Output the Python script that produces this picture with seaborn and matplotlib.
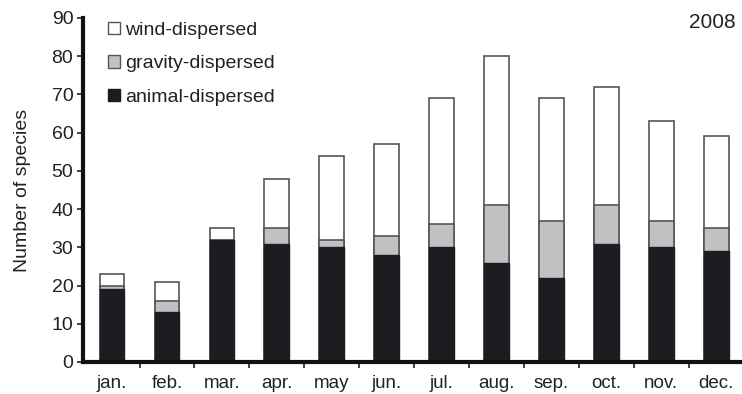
import matplotlib.pyplot as plt
import pandas as pd
import seaborn as sns
from matplotlib.patches import Patch
from matplotlib.ticker import FixedLocator

# Data (2008)
months = ["jan.", "feb.", "mar.", "apr.", "may", "jun.",
          "jul.", "aug.", "sep.", "oct.", "nov.", "dec."]
animal = [19, 13, 32, 31, 30, 28, 30, 26, 22, 31, 30, 29]
gravity = [1, 3, 0, 4, 2, 5, 6, 15, 15, 10, 7, 6]
wind = [3, 5, 3, 13, 22, 24, 33, 39, 32, 31, 26, 24]

df = pd.DataFrame({"month": months, "animal": animal,
                   "gravity": gravity, "wind": wind})
df["animal_gravity"] = df["animal"] + df["gravity"]
df["total"] = df["animal_gravity"] + df["wind"]

sns.set_style("white")
plt.rcParams["font.family"] = ["Liberation Sans", "DejaVu Sans"]

fig = plt.figure(figsize=(7.42, 3.94), dpi=100)
ax = fig.add_axes([83 / 742, 1 - 362 / 394, 1 - 83 / 742, (362 - 18) / 394])

edge = "#555555"
bw = 0.45
# stacked bars: draw cumulative totals back to front
sns.barplot(data=df, x="month", y="total", color="white", edgecolor=edge,
            linewidth=1.2, width=bw, saturation=1, ax=ax)
sns.barplot(data=df, x="month", y="animal_gravity", color="#c0c1c3", edgecolor=edge,
            linewidth=1.2, width=bw, saturation=1, ax=ax)
sns.barplot(data=df, x="month", y="animal", color="#1c1d20", edgecolor="#1c1d20",
            linewidth=1.0, width=bw, saturation=1, ax=ax)

ax.set(ylim=(0, 90), xlim=(-0.53, 11.47), xlabel="")
ax.set_ylabel("Number of species", fontsize=14, labelpad=15, color="#222222")
ax.set_yticks(range(0, 91, 10))
ax.tick_params(axis="y", labelsize=14, length=4, width=1.2, direction="out",
               left=True, pad=3, colors="#222222")
ax.tick_params(axis="x", which="major", labelsize=13.5, length=0, pad=9,
               colors="#222222")
ax.xaxis.set_minor_locator(FixedLocator([i + 0.5 for i in range(11)]))
ax.tick_params(axis="x", which="minor", length=4, width=1.2, bottom=True,
               direction="out", color="#222222")

sns.despine(ax=ax)
ax.spines["left"].set_linewidth(3)
ax.spines["bottom"].set_linewidth(3)
ax.spines["left"].set_color("#111111")
ax.spines["bottom"].set_color("#111111")

handles = [Patch(facecolor="white", edgecolor=edge, label="wind-dispersed"),
           Patch(facecolor="#c0c1c3", edgecolor=edge, label="gravity-dispersed"),
           Patch(facecolor="#1c1d20", edgecolor="#1c1d20", label="animal-dispersed")]
ax.legend(handles=handles, loc="upper left", bbox_to_anchor=(0.012, 1.04),
          frameon=False, fontsize=14, handlelength=0.6, handleheight=0.6,
          handletextpad=0.25, labelspacing=0.85, labelcolor="#222222")

ax.text(0.99, 1.015, "2008", transform=ax.transAxes, ha="right", va="top",
        fontsize=15, color="#222222")

plt.savefig("out.png")
